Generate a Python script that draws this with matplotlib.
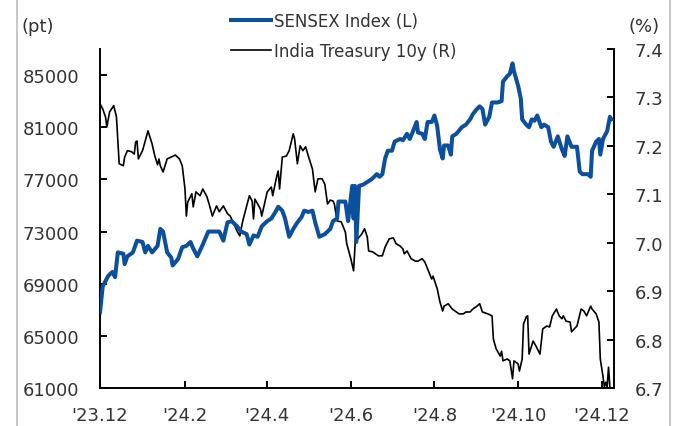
import numpy as np
import pandas as pd
import matplotlib
matplotlib.use("Agg")
import matplotlib.pyplot as plt
import matplotlib.dates as mdates
from matplotlib.lines import Line2D

plt.rcParams['font.family'] = ['DejaVu Sans']

start = pd.Timestamp("2023-12-01")

# SENSEX index, days since 2023-12-01 and level (pt)
sensex_days = [0, 2, 6, 9, 11, 13, 17, 18, 20, 24, 27, 31, 33, 35, 38, 42, 44, 46, 49, 52,
               53, 57, 60, 63, 66, 68, 71, 75, 79, 82, 85, 87, 90, 93, 96, 100, 103, 107, 109, 112,
               115, 118, 122, 125, 128, 130, 133, 135, 138, 141, 144, 147, 149, 152, 155, 157, 160, 164, 168, 170,
               173, 174, 179, 181, 184, 185, 186, 187, 189, 192, 195, 198, 202, 204, 206, 208, 210, 213, 215, 219,
               221, 224, 226, 228, 231, 232, 235, 237, 239, 242, 244, 246, 248, 250, 251, 254, 256, 257, 260, 264,
               267, 270, 272, 275, 277, 279, 281, 284, 286, 290, 293, 294, 297, 299, 301, 302, 305, 307, 308, 311,
               313, 315, 317, 319, 322, 324, 327, 329, 331, 334, 337, 339, 341, 344, 348, 350, 352, 356, 358, 359,
               362, 364, 365, 367, 370, 372, 373]
sensex = [66800, 68800, 69600, 69900, 69500, 71400, 71300, 70500, 71100, 71400, 72300, 72200, 71400, 71900, 71400, 71900, 73200, 73000, 71400, 71000,
          70400, 70900, 71800, 71900, 72200, 71700, 71100, 72000, 73000, 73000, 73000, 73000, 72300, 73700, 73800, 73400, 73000, 72800, 72000, 72700,
          72600, 73400, 73800, 74000, 74500, 74900, 74600, 74000, 72600, 73200, 73700, 74100, 74600, 74500, 74600, 73700, 72600, 72800, 73200, 73800,
          74000, 75300, 75300, 73800, 76500, 74000, 76500, 72200, 76500, 76600, 76800, 77000, 77400, 77200, 77400, 78600, 79200, 79200, 79900, 80100,
          80000, 80500, 80100, 80600, 81400, 80600, 80500, 80100, 81400, 81400, 81900, 81100, 79300, 78600, 79600, 79600, 78900, 80300, 80500, 81000,
          81200, 81600, 82000, 82400, 82600, 82400, 81200, 81800, 82900, 82900, 83000, 84500, 84900, 85100, 85900, 85300, 84200, 83200, 81600, 81200,
          81000, 81600, 81500, 81900, 81000, 81200, 81000, 79900, 79500, 80300, 79300, 78800, 80300, 79500, 79500, 77600, 77400, 77400, 77200, 79200,
          79900, 80100, 78900, 80100, 80700, 81800, 81600]

# India 10y treasury yield, days since 2023-12-01 and yield (%)
bond_days = [0, 2, 4, 5, 7, 10, 12, 14, 17, 18, 20, 23, 25, 26, 27, 28, 31, 33, 35, 38,
             40, 42, 43, 44, 46, 49, 52, 55, 58, 60, 62, 63, 64, 67, 68, 70, 73, 75, 78, 80,
             82, 85, 87, 90, 93, 95, 97, 100, 102, 104, 107, 109, 111, 112, 113, 117, 118, 120, 122, 125,
             126, 129, 130, 131, 133, 136, 138, 141, 142, 144, 146, 148, 150, 152, 155, 157, 159, 162, 164, 166,
             168, 170, 171, 173, 176, 179, 180, 183, 185, 187, 188, 191, 193, 195, 196, 199, 203, 206, 208, 211,
             214, 216, 219, 221, 222, 224, 227, 230, 232, 235, 237, 239, 242, 243, 246, 248, 250, 251, 254, 257,
             259, 262, 265, 267, 270, 272, 275, 277, 279, 283, 286, 287, 289, 292, 293, 294, 297, 299, 301, 302,
             305, 306, 308, 309, 311, 312, 313, 316, 318, 321, 323, 326, 328, 330, 333, 335, 337, 338, 340, 343,
             344, 346, 348, 351, 353, 355, 358, 359, 362, 364, 365, 367, 368, 369, 370, 371, 372]
bond = [7.287, 7.276, 7.260, 7.239, 7.270, 7.283, 7.260, 7.163, 7.159, 7.177, 7.190, 7.188, 7.183, 7.208, 7.210, 7.173, 7.190, 7.210, 7.231, 7.204,
        7.179, 7.161, 7.173, 7.159, 7.146, 7.173, 7.177, 7.181, 7.173, 7.159, 7.111, 7.055, 7.084, 7.101, 7.074, 7.105, 7.097, 7.111, 7.095, 7.076,
        7.055, 7.076, 7.064, 7.076, 7.060, 7.055, 7.043, 7.024, 7.014, 7.043, 7.076, 7.097, 7.086, 7.049, 7.090, 7.070, 7.055, 7.080, 7.105, 7.115,
        7.097, 7.138, 7.148, 7.111, 7.177, 7.179, 7.190, 7.225, 7.214, 7.163, 7.200, 7.190, 7.198, 7.179, 7.152, 7.105, 7.132, 7.132, 7.121, 7.080,
        7.088, 7.086, 7.080, 7.045, 7.043, 7.022, 6.998, 6.967, 6.942, 7.039, 7.008, 7.018, 7.029, 7.012, 6.983, 6.981, 6.973, 6.973, 6.991, 7.008,
        7.010, 6.998, 6.993, 6.987, 6.977, 6.983, 6.967, 6.962, 6.962, 6.967, 6.960, 6.946, 6.925, 6.931, 6.905, 6.878, 6.859, 6.869, 6.874, 6.863,
        6.859, 6.853, 6.853, 6.857, 6.857, 6.863, 6.869, 6.874, 6.857, 6.853, 6.849, 6.801, 6.781, 6.766, 6.776, 6.756, 6.760, 6.756, 6.719, 6.756,
        6.750, 6.735, 6.760, 6.832, 6.847, 6.849, 6.770, 6.797, 6.787, 6.770, 6.822, 6.828, 6.826, 6.849, 6.863, 6.849, 6.843, 6.849, 6.838, 6.836,
        6.816, 6.822, 6.828, 6.863, 6.859, 6.849, 6.869, 6.863, 6.853, 6.836, 6.760, 6.723, 6.702, 6.712, 6.702, 6.743, 6.702]

x_ticks = ["2023-12-01", "2024-02-01", "2024-04-01", "2024-06-01", "2024-08-01", "2024-10-01", "2024-12-01"]
x_labels = ["'23.12", "'24.2", "'24.4", "'24.6", "'24.8", "'24.10", "'24.12"]
left_ticks = [61000, 65000, 69000, 73000, 77000, 81000, 85000]
right_ticks = [6.7, 6.8, 6.9, 7.0, 7.1, 7.2, 7.3, 7.4]

sensex_dates = start + pd.to_timedelta(sensex_days, unit="D")
bond_dates = start + pd.to_timedelta(bond_days, unit="D")

blue = "#0B4F9E"
txt = "#333333"

fig = plt.figure(figsize=(6.77, 4.27), dpi=100)
ax = fig.add_axes([100 / 677, 38 / 427, 514 / 677, 339 / 427])
ax2 = ax.twinx()

l1, = ax.plot(sensex_dates, sensex, color=blue, lw=2.9, label="SENSEX Index (L)", zorder=3)
l2, = ax2.plot(bond_dates, bond, color="black", lw=1.2, label="India Treasury 10y (R)")
ax.set_zorder(ax2.get_zorder() + 1)
ax.patch.set_visible(False)

ax.set_xlim(start, start + pd.Timedelta(days=375))
ax.set_ylim(61000, 87000)
ax2.set_ylim(6.7, 7.4)

ax.set_xticks(pd.to_datetime(x_ticks))
ax.set_xticklabels(x_labels)
ax.set_yticks(left_ticks)
ax.set_yticklabels([str(v) for v in left_ticks])
ax2.set_yticks(right_ticks)
ax2.set_yticklabels([f"{v:.1f}" for v in right_ticks])

for a in (ax, ax2):
    a.spines['top'].set_visible(False)
    for s in a.spines.values():
        s.set_linewidth(1.4)
        s.set_color("black")
ax.spines['right'].set_visible(False)
ax2.spines['left'].set_visible(False)
ax2.spines['bottom'].set_visible(False)

ax.tick_params(axis='x', direction='in', length=5, width=1.4, pad=13, labelsize=13, labelcolor=txt)
ax.tick_params(axis='y', direction='in', length=5, width=1.4, pad=15, labelsize=13, labelcolor=txt)
ax2.tick_params(axis='y', direction='in', length=5, width=1.4, pad=15, labelsize=13, labelcolor=txt)

fig.text(22 / 677, 1 - 27 / 427, "(pt)", fontsize=13, color=txt, va='center', ha='left')
fig.text(660 / 677, 1 - 27 / 427, "(%)", fontsize=13, color=txt, va='center', ha='right')

fig.legend(handles=[l1, l2], loc='upper left', bbox_to_anchor=(224 / 677, 1 - 6 / 427),
           frameon=False, fontsize=12, handlelength=2.4, handletextpad=0.2,
           labelspacing=0.75, labelcolor=txt, borderaxespad=0)

# light frame lines at the figure sides
fig.add_artist(Line2D([17 / 677, 17 / 677], [0, 1], color="#c8c8c8", lw=1.5))
fig.add_artist(Line2D([670 / 677, 670 / 677], [0, 1], color="#c8c8c8", lw=1.5))

fig.savefig("out.png", dpi=100)
